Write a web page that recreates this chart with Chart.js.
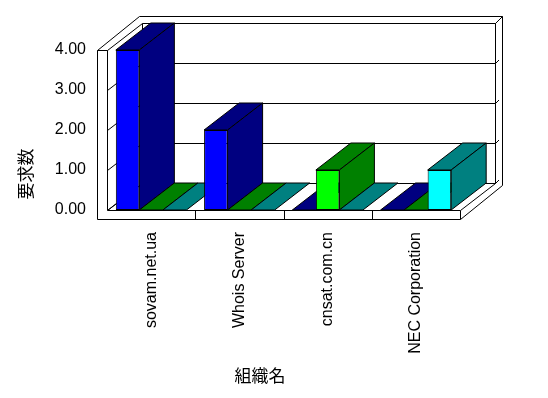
<!DOCTYPE html>
<html>
<head>
<meta charset="utf-8">
<script src="https://cdn.jsdelivr.net/npm/chart.js@4"></script>
<style>
  html, body { margin: 0; padding: 0; background: #fff; }
  #wrap { width: 548px; height: 398px; position: relative; }
</style>
</head>
<body>
<div id="wrap"><canvas id="requestChart"></canvas></div>
<script>
const organizations = ['sovam.net.ua', 'Whois Server', 'cnsat.com.cn', 'NEC Corporation'];
const series1 = [4, 2, 0, 0];
const series2 = [0, 0, 1, 0];
const series3 = [0, 0, 0, 1];
const yTicks = [0, 1, 2, 3, 4];
const yTitle = '要求数';
const xTitle = '組織名';

// front face / top+side colour of each series
const frontColors = ['#0000ff', '#00ff00', '#00ffff'];
const sideColors = ['#000080', '#008000', '#008080'];

const DX = 35, DY = -27;      // depth of the floor
const TX = 7, TY = -7;        // back wall thickness
const WALL_L = 10, WALL_F = 9; // left wall and floor thickness

function px(v) { return Math.round(v) + 0.5; }

function line(ctx, pts) {
  ctx.beginPath();
  ctx.moveTo(pts[0][0], pts[0][1]);
  for (let i = 1; i < pts.length; i++) ctx.lineTo(pts[i][0], pts[i][1]);
  ctx.stroke();
}

function poly(ctx, pts) {
  ctx.beginPath();
  ctx.moveTo(pts[0][0], pts[0][1]);
  for (let i = 1; i < pts.length; i++) ctx.lineTo(pts[i][0], pts[i][1]);
  ctx.closePath();
  ctx.fill();
  ctx.stroke();
}

const box3d = {
  id: 'box3d',
  beforeDatasetsDraw(chart) {
    const ctx = chart.ctx;
    const xs = chart.scales.x, ys = chart.scales.y;
    const L = px(xs.left), R = px(xs.right);
    const B = px(ys.getPixelForValue(yTicks[0]));
    const T = px(ys.getPixelForValue(yTicks[yTicks.length - 1]));
    const OL = L - WALL_L, FB = B + WALL_F;
    ctx.save();
    ctx.strokeStyle = '#000';
    ctx.lineWidth = 1;

    // back wall, outer edges
    line(ctx, [[OL, T], [OL + DX + TX, T + DY + TY], [R + DX + TX, T + DY + TY], [R + DX + TX, FB + DY + TY], [R, FB]]);
    line(ctx, [[R + DX, T + DY], [R + DX + TX, T + DY + TY]]);
    line(ctx, [[L + DX, T + DY], [L + DX, B + DY], [R + DX, B + DY], [R + DX, T + DY]]);
    // floor and left wall joints
    line(ctx, [[L, B], [L + DX, B + DY]]);
    line(ctx, [[R, B], [R + DX, B + DY]]);

    // gridlines: front of left wall, left wall, back wall
    yTicks.forEach(v => {
      const y = px(ys.getPixelForValue(v));
      line(ctx, [[OL, y], [L, y], [L + DX, y + DY], [R + DX, y + DY], [R + DX + TX / 2, y + DY + TY / 2]]);
    });

    // front face of left wall and floor
    ctx.fillStyle = '#fff';
    poly(ctx, [[OL, T], [L, T], [L, B], [R, B], [R, FB], [OL, FB]]);
    for (let k = 1; k < organizations.length; k++) {
      const x = px((xs.getPixelForTick(k - 1) + xs.getPixelForTick(k)) / 2);
      line(ctx, [[x, B], [x, FB]]);
    }

    // tops and sides of the bars
    for (let i = 0; i < organizations.length; i++) {
      chart.data.datasets.forEach((ds, d) => {
        const bar = chart.getDatasetMeta(d).data[i];
        const x0 = bar.x - bar.width / 2, x1 = bar.x + bar.width / 2;
        const top = bar.y, base = bar.base;
        ctx.fillStyle = sideColors[d];
        poly(ctx, [[x0, top], [x1, top], [x1 + DX, top + DY], [x0 + DX, top + DY]]);
        if (base - top > 0.5) {
          poly(ctx, [[x1, top], [x1 + DX, top + DY], [x1 + DX, base + DY], [x1, base]]);
        }
      });
    }
    ctx.restore();
  },
  afterDraw(chart) {
    const ctx = chart.ctx;
    ctx.save();
    ctx.fillStyle = '#000';
    ctx.font = "17px 'Noto Sans CJK JP'";
    ctx.textAlign = 'center';
    ctx.textBaseline = 'middle';
    ctx.fillText(xTitle, 260, 376);
    ctx.translate(26, 174);
    ctx.rotate(-Math.PI / 2);
    ctx.fillText(yTitle, 0, 0);
    ctx.restore();
  }
};

Chart.defaults.font.family = "'Liberation Sans', Arial, sans-serif";
Chart.defaults.font.size = 16;
Chart.defaults.color = '#000';

const requestCtx = document.getElementById('requestChart').getContext('2d');
const requestChart = new Chart(requestCtx, {
  type: 'bar',
  data: {
    labels: organizations,
    datasets: [series1, series2, series3].map((values, d) => ({
      label: 'series' + (d + 1),
      data: values,
      backgroundColor: frontColors[d],
      borderColor: '#000',
      borderWidth: 1,
      borderSkipped: false,
      categoryPercentage: 0.8,
      barPercentage: 1.0
    }))
  },
  options: {
    responsive: true,
    maintainAspectRatio: false,
    animation: false,
    layout: { padding: { left: 0, top: 50, right: 88, bottom: 0 } },
    plugins: {
      legend: { display: false },
      tooltip: { enabled: false }
    },
    scales: {
      x: {
        grid: { display: false, drawTicks: false },
        border: { display: false },
        ticks: { minRotation: 90, maxRotation: 90, padding: 22, autoSkip: false },
        afterFit(scale) { scale.height = 188; }
      },
      y: {
        min: 0,
        max: 4,
        grid: { display: false, drawTicks: false },
        border: { display: false },
        ticks: {
          stepSize: 1,
          padding: 21,
          callback: value => value.toFixed(2)
        },
        afterFit(scale) { scale.width = 107; }
      }
    }
  },
  plugins: [box3d]
});
</script>
</body>
</html>
